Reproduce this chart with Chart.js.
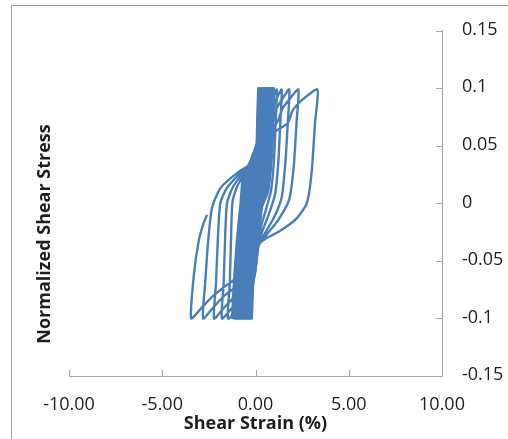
<!DOCTYPE html>
<html><head><meta charset="utf-8">
<script src="https://cdn.jsdelivr.net/npm/chart.js@4.4.0/dist/chart.umd.min.js"></script>
<style>html,body{margin:0;padding:0;background:#fff}#wrap{width:508px;height:439px;position:relative}</style>
</head><body><div id="wrap"><canvas id="c" width="508" height="439"></canvas></div>
<script>
const xTickValues = [-10, -5, 0, 5, 10];
const xTickLabels = ['-10.00', '-5.00', '0.00', '5.00', '10.00'];
const yTickValues = [-0.15, -0.1, -0.05, 0, 0.05, 0.1, 0.15];
const yTickLabels = ['-0.15', '-0.1', '-0.05', '0', '0.05', '0.1', '0.15'];
const xTitle = 'Shear Strain (%)';
const yTitle = 'Normalized Shear Stress';

// early cycles (dense central band)
const bandStrain = [
0,0.05,0.1,
0.15,0.12,0.06,0.0,-0.08,-0.15,-0.2,
-0.16,-0.1,0.0,0.1,
0.22,0.18,0.1,0.02,-0.1,-0.2,-0.3,
-0.25,-0.18,-0.05,0.1,
0.3,0.25,0.17,0.05,-0.07,-0.22,-0.4,
-0.34,-0.26,-0.15,-0.02,0.12,
0.38,0.33,0.24,0.1,-0.04,-0.25,-0.5,
-0.43,-0.34,-0.22,-0.06,0.12,0.25,
0.46,0.41,0.32,0.16,0.0,-0.1,-0.35,-0.6,
-0.53,-0.44,-0.32,-0.2,-0.05,0.1,0.3,
0.55,0.5,0.4,0.22,0.05,-0.07,-0.4,-0.72,
-0.64,-0.54,-0.4,-0.3,-0.12,0.05,0.3,
0.64,0.59,0.49,0.3,0.08,-0.06,-0.45,-0.84,
-0.75,-0.64,-0.5,-0.39,-0.17,0.03,0.3,
0.74,0.69,0.6,0.4,0.1,-0.05,-0.5,-0.96,
-0.86,-0.74,-0.58,-0.47,-0.22,0.02,0.3,0.55,
0.85,0.8,0.7,0.5,0.25,0.12,-0.05,-0.55,-1.08,
-0.98,-0.86,-0.68,-0.57,-0.26,0.01,0.3,0.6,
0.98,0.93,0.85,0.67,0.35,0.13,-0.05,-0.65,-1.26
];
const bandStress = [
0,0.04,0.075,
0.1,0.06,0.02,-0.01,-0.05,-0.08,-0.1,
-0.06,-0.02,0.02,0.06,
0.1,0.06,0.02,-0.01,-0.04,-0.075,-0.1,
-0.06,-0.02,0.02,0.055,
0.1,0.06,0.025,-0.005,-0.035,-0.07,-0.1,
-0.065,-0.03,0.005,0.03,0.055,
0.1,0.06,0.025,-0.005,-0.035,-0.07,-0.1,
-0.065,-0.03,0.005,0.03,0.05,0.075,
0.1,0.06,0.03,0.0,-0.03,-0.05,-0.075,-0.1,
-0.065,-0.03,0.0,0.022,0.035,0.05,0.075,
0.1,0.06,0.03,0.0,-0.032,-0.055,-0.077,-0.1,
-0.067,-0.033,0.0,0.022,0.035,0.048,0.07,
0.1,0.06,0.03,0.002,-0.034,-0.058,-0.078,-0.1,
-0.067,-0.033,0.0,0.022,0.035,0.048,0.068,
0.1,0.06,0.03,0.004,-0.035,-0.06,-0.08,-0.1,
-0.067,-0.033,0.0,0.022,0.036,0.049,0.067,0.085,
0.1,0.06,0.03,0.006,-0.005,-0.036,-0.06,-0.08,-0.1,
-0.067,-0.033,0.0,0.022,0.036,0.049,0.066,0.085,
0.1,0.06,0.035,0.01,-0.003,-0.036,-0.062,-0.08,-0.1
];

// more early cycles inside the band
const band2Strain = [
0,0.08,0.14,
0.18,0.15,0.08,0.01,-0.1,-0.18,-0.25,
-0.2,-0.14,-0.02,0.1,
0.26,0.21,0.13,0.03,-0.09,-0.21,-0.35,
-0.3,-0.22,-0.1,0.05,
0.34,0.29,0.2,0.07,-0.06,-0.24,-0.45,
-0.39,-0.3,-0.18,-0.04,0.12,0.22,
0.42,0.37,0.28,0.13,-0.02,-0.1,-0.3,-0.55,
-0.48,-0.39,-0.27,-0.13,0.02,0.15,0.28,
0.5,0.45,0.36,0.19,0.02,-0.09,-0.37,-0.66,
-0.58,-0.49,-0.36,-0.25,-0.08,0.08,0.3,
0.6,0.55,0.45,0.26,0.06,-0.06,-0.42,-0.78,
-0.7,-0.59,-0.45,-0.35,-0.15,0.04,0.3,
0.69,0.64,0.55,0.35,0.09,-0.05,-0.48,-0.9,
-0.8,-0.69,-0.54,-0.43,-0.2,0.02,0.3,0.5,
0.8,0.75,0.65,0.45,0.2,0.11,-0.05,-0.52,-1.02,
-0.92,-0.8,-0.63,-0.52,-0.24,0.02,0.3,0.58,
0.92,0.87,0.78,0.6,0.3,0.13,-0.05,-0.6,-1.17,
-1.07,-0.94,-0.74,-0.62,-0.28,0.02
];
const band2Stress = [
0,0.05,0.085,
0.1,0.06,0.02,-0.01,-0.045,-0.078,-0.1,
-0.06,-0.02,0.02,0.06,
0.1,0.06,0.022,-0.008,-0.038,-0.072,-0.1,
-0.063,-0.025,0.012,0.045,
0.1,0.06,0.025,-0.005,-0.035,-0.07,-0.1,
-0.065,-0.03,0.005,0.03,0.053,0.075,
0.1,0.06,0.027,-0.003,-0.033,-0.05,-0.073,-0.1,
-0.065,-0.03,0.002,0.026,0.042,0.055,0.075,
0.1,0.06,0.03,0.0,-0.031,-0.053,-0.076,-0.1,
-0.066,-0.032,0.0,0.022,0.035,0.049,0.072,
0.1,0.06,0.03,0.001,-0.033,-0.056,-0.078,-0.1,
-0.067,-0.033,0.0,0.022,0.035,0.048,0.069,
0.1,0.06,0.03,0.003,-0.035,-0.059,-0.079,-0.1,
-0.067,-0.033,0.0,0.022,0.036,0.049,0.067,0.083,
0.1,0.06,0.03,0.005,-0.01,-0.036,-0.06,-0.08,-0.1,
-0.067,-0.033,0.0,0.022,0.036,0.049,0.066,0.085,
0.1,0.06,0.033,0.008,-0.004,-0.036,-0.061,-0.08,-0.1,
-0.067,-0.033,0.0,0.022,0.036,0.049
];

// later, growing cycles
const outerStrain = [
-1.26,
-1.15,-1.0,-0.8,-0.67,-0.29,0.03,0.3,0.57,0.71,0.91,
1.14,1.08,0.98,0.82,0.55,0.3,0.14,-0.05,-0.31,-0.9,-1.47,
-1.38,-1.32,-1.24,-1.0,-0.6,-0.25,0.03,0.35,0.7,0.87,1.12,
1.40,1.33,1.22,1.05,0.7,0.35,0.15,-0.1,-0.64,-1.22,-1.80,
-1.71,-1.64,-1.53,-1.25,-0.75,-0.27,0.03,0.4,0.9,1.12,1.45,
1.81,1.73,1.6,1.4,1.0,0.5,0.15,-0.1,-1.06,-1.65,-2.22,
-2.12,-2.03,-1.89,-1.55,-0.9,-0.29,0.03,0.5,1.15,1.43,1.84,
2.30,2.2,2.05,1.8,1.2,0.6,0.15,-0.15,-0.5,-1.65,-2.24,-2.81,
-2.7,-2.55,-2.35,-2.0,-1.74,-0.94,-0.29,0.03,0.6,1.2,1.74,2.0,2.5,
3.32,3.19,3.01,2.75,2.21,1.31,0.6,0.15,-0.2,-1.1,-2.24,-2.85,-3.45,
-3.31,-3.05,-2.8,-2.6
];
const outerStress = [
-0.1,
-0.067,-0.033,0.0,0.023,0.036,0.049,0.06,0.07,0.082,0.091,
0.099,0.07,0.035,0.01,-0.006,-0.02,-0.037,-0.063,-0.08,-0.091,-0.1,
-0.07,-0.035,0.0,0.014,0.026,0.035,0.048,0.06,0.07,0.082,0.091,
0.099,0.07,0.035,0.008,-0.01,-0.025,-0.038,-0.064,-0.08,-0.09,-0.1,
-0.07,-0.035,0.0,0.013,0.025,0.034,0.047,0.06,0.07,0.082,0.091,
0.099,0.07,0.035,0.005,-0.012,-0.026,-0.038,-0.064,-0.08,-0.09,-0.1,
-0.07,-0.035,0.0,0.013,0.025,0.034,0.047,0.06,0.07,0.082,0.091,
0.099,0.07,0.032,0.003,-0.015,-0.027,-0.037,-0.062,-0.066,-0.08,-0.09,-0.1,
-0.07,-0.035,-0.005,0.01,0.016,0.027,0.034,0.047,0.058,0.064,0.07,0.081,0.09,
0.099,0.07,0.027,0.0,-0.013,-0.024,-0.03,-0.036,-0.058,-0.066,-0.08,-0.09,-0.1,
-0.063,-0.033,-0.018,-0.01
];

const toPoints = (xs, ys) => xs.map((x, i) => ({ x: x, y: ys[i] }));
const LINE = '#4a7ebb';
const AXIS = '#a6a6a6';
const TEXT = '#1e1e1e';
const FONT = '"Open Sans", Lato, sans-serif';

const deco = {
  id: 'deco',
  beforeDraw(chart) {
    const ctx = chart.ctx;
    ctx.save();
    ctx.fillStyle = '#fff';
    ctx.fillRect(0, 0, chart.width, chart.height);
    ctx.strokeStyle = '#a0a0a0';
    ctx.lineWidth = 1;
    ctx.strokeRect(11.5, 5.5, 700, 700);
    ctx.restore();
  },
  afterDraw(chart) {
    const ctx = chart.ctx;
    const xs = chart.scales.x, ys = chart.scales.y;
    const area = chart.chartArea;
    ctx.save();
    ctx.strokeStyle = AXIS;
    ctx.lineWidth = 1;
    ctx.beginPath();
    xTickValues.forEach(v => {
      const px = Math.round(xs.getPixelForValue(v)) + 0.5;
      ctx.moveTo(px, area.bottom - 6);
      ctx.lineTo(px, area.bottom);
    });
    yTickValues.forEach(v => {
      const py = Math.round(ys.getPixelForValue(v)) + 0.5;
      ctx.moveTo(area.right - 6, py);
      ctx.lineTo(area.right, py);
    });
    ctx.stroke();
    ctx.translate(45, 234);
    ctx.rotate(-Math.PI / 2);
    ctx.fillStyle = TEXT;
    ctx.font = 'bold 18px ' + FONT;
    ctx.textAlign = 'center';
    ctx.textBaseline = 'middle';
    ctx.fillText(yTitle, 0, 0);
    ctx.restore();
  }
};

const lineStyle = { showLine: true, borderColor: LINE, borderWidth: 2.4, pointRadius: 0, tension: 0.2, fill: false };

new Chart(document.getElementById('c'), {
  type: 'scatter',
  data: {
    datasets: [
      Object.assign({ data: toPoints(bandStrain, bandStress) }, lineStyle),
      Object.assign({ data: toPoints(band2Strain, band2Stress) }, lineStyle),
      Object.assign({ data: toPoints(outerStrain, outerStress) }, lineStyle)
    ]
  },
  options: {
    responsive: false,
    animation: false,
    devicePixelRatio: 1,
    layout: { padding: { left: 69, right: 0, top: 28, bottom: 0 } },
    plugins: { legend: { display: false }, tooltip: { enabled: false } },
    scales: {
      x: {
        type: 'linear', position: 'bottom', min: -10, max: 10,
        afterBuildTicks: s => { s.ticks = xTickValues.map(v => ({ value: v })); },
        afterFit: s => { s.height = 63; },
        grid: { display: true, drawOnChartArea: false, drawTicks: false, color: AXIS },
        border: { display: true, color: AXIS, width: 1 },
        ticks: { autoSkip: false, maxRotation: 0, padding: 18, color: TEXT, font: { family: FONT, size: 18 },
          callback: v => xTickLabels[xTickValues.indexOf(v)] },
        title: { display: true, text: xTitle, color: TEXT, font: { family: FONT, size: 18, weight: 'bold' }, padding: { top: 0, bottom: 4 } }
      },
      y: {
        type: 'linear', position: 'right', min: -0.15, max: 0.15,
        afterBuildTicks: s => { s.ticks = yTickValues.map(v => ({ value: v })); },
        afterFit: s => { s.width = 66; },
        grid: { display: true, drawOnChartArea: false, drawTicks: false, color: AXIS },
        border: { display: true, color: AXIS, width: 1 },
        ticks: { autoSkip: false, padding: 20, labelOffset: -1, color: TEXT, font: { family: FONT, size: 18 },
          callback: v => { const i = yTickValues.findIndex(t => Math.abs(t - v) < 1e-9); return i >= 0 ? yTickLabels[i] : ''; } }
      }
    }
  },
  plugins: [deco]
});
</script>
</body></html>
